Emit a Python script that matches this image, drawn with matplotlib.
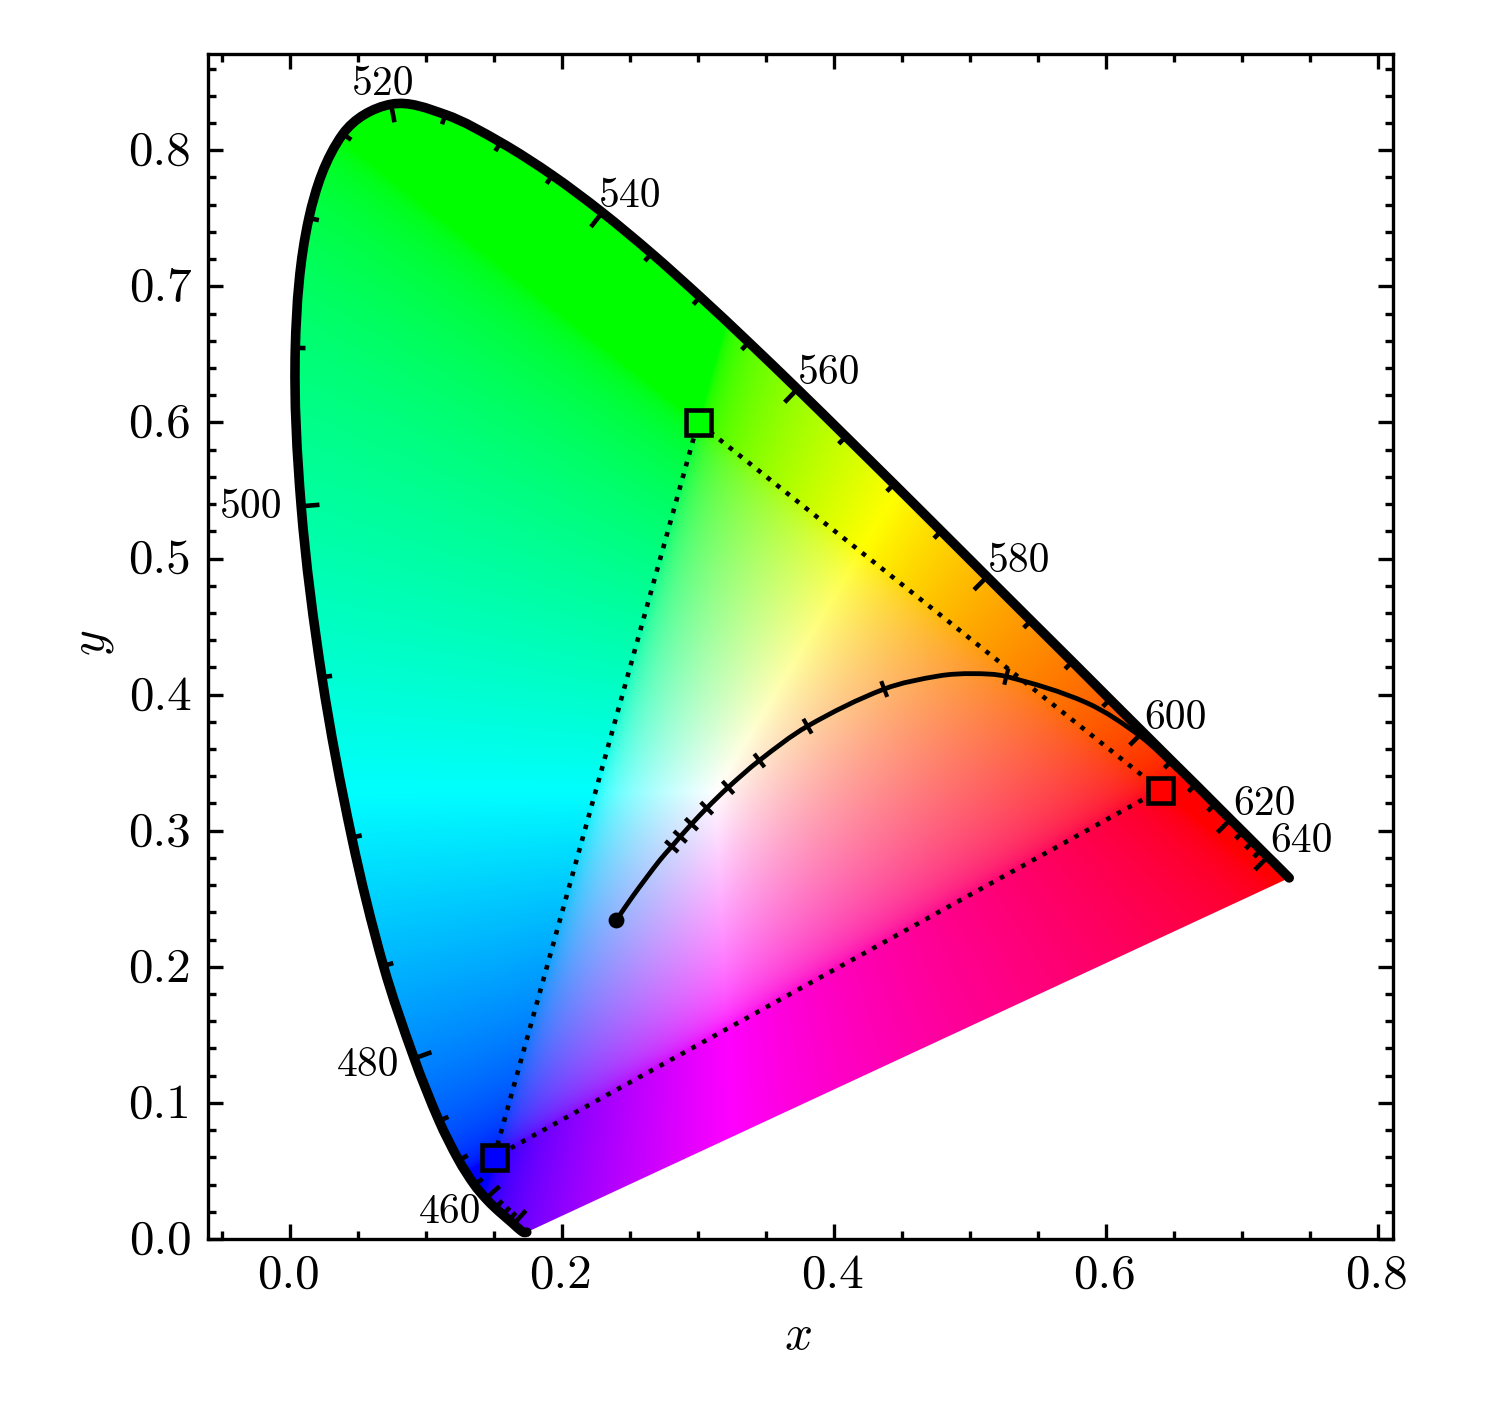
import matplotlib
matplotlib.use('Agg')
import matplotlib.pyplot as plt
import numpy as np
from matplotlib.patches import PathPatch
from matplotlib.path import Path
from matplotlib.ticker import MultipleLocator
from matplotlib.transforms import ScaledTranslation

plt.rcParams['font.family'] = ['cmr10', 'DejaVu Serif']
plt.rcParams['mathtext.fontset'] = 'cm'
plt.rcParams['axes.formatter.use_mathtext'] = True

wavelengths = list(range(380, 705, 5))
locus_x = [.1741, .1740, .1738, .1736, .1733, .1730, .1726, .1721, .1714, .1703, .1689, .1669, .1644,
           .1611, .1566, .1510, .1440, .1355, .1241, .1096, .0913, .0687, .0454, .0235, .0082, .0039,
           .0139, .0389, .0743, .1142, .1547, .1929, .2296, .2658, .3016, .3373, .3731, .4087, .4441,
           .4788, .5125, .5448, .5752, .6029, .6270, .6482, .6658, .6801, .6915, .7006, .7079, .7140,
           .7190, .7230, .7260, .7283, .7300, .7311, .7320, .7327, .7334, .7340, .7344, .7346, .7347]
locus_y = [.0050, .0050, .0049, .0049, .0048, .0048, .0048, .0048, .0051, .0058, .0069, .0086, .0109,
           .0138, .0177, .0227, .0297, .0399, .0578, .0868, .1327, .2007, .2950, .4127, .5384, .6548,
           .7502, .8120, .8338, .8262, .8059, .7816, .7543, .7243, .6923, .6589, .6245, .5896, .5547,
           .5202, .4866, .4544, .4242, .3965, .3725, .3514, .3340, .3197, .3083, .2993, .2920, .2859,
           .2809, .2770, .2740, .2717, .2700, .2689, .2680, .2673, .2666, .2660, .2656, .2654, .2653]
labelled_nm = [460, 480, 500, 520, 540, 560, 580, 600, 620, 640]

# planckian locus, from infinite temperature down to 1000 K
planck_x = [.2399, .2522, .2718, .2807, .2869, .2952, .3064, .3221, .3451, .3805,
            .4369, .4770, .5020, .5267, .5857, .6251, .6528]
planck_y = [.2342, .2521, .2782, .2884, .2956, .3048, .3166, .3318, .3516, .3768,
            .4041, .4137, .4154, .4133, .3940, .3695, .3444]
planck_tick_x = [.2807, .2869, .2952, .3064, .3221, .3451, .3805, .4369, .5267]
planck_tick_y = [.2884, .2956, .3048, .3166, .3318, .3516, .3768, .4041, .4133]

# sRGB primaries
primary_x = [.64, .30, .15]
primary_y = [.33, .60, .06]
primary_colors = [(1, 0, 0), (0, 1, 0), (0, 0, 1)]

xticks = [0.0, 0.2, 0.4, 0.6, 0.8]
yticks = [0.0, 0.1, 0.2, 0.3, 0.4, 0.5, 0.6, 0.7, 0.8]

XYZ_TO_RGB = np.array([[3.2406, -1.5372, -0.4986],
                       [-0.9689, 1.8758, 0.0415],
                       [0.0557, -0.2040, 1.0570]])


def xy_to_srgb(x, y):
    y = np.maximum(y, 1e-6)
    xyz = np.stack([x / y, np.ones_like(x), (1 - x - y) / y], axis=-1)
    rgb = xyz @ XYZ_TO_RGB.T
    rgb = np.clip(rgb, 0, None)
    rgb = rgb / rgb.max(axis=-1, keepdims=True)
    return np.where(rgb <= 0.0031308, 12.92 * rgb, 1.055 * rgb ** (1 / 2.4) - 0.055)


def tangents(x, y):
    p = np.column_stack([x, y])
    t = np.gradient(p, axis=0)
    return p, t / np.hypot(t[:, 0], t[:, 1])[:, None]


def smooth_path(x, y, close=False):
    # bezier path through the points, so that the curve has no corners
    p, t = tangents(x, y)
    verts = [p[0]]
    codes = [Path.MOVETO]
    for i in range(len(p) - 1):
        seg = np.hypot(*(p[i + 1] - p[i])) / 3
        verts += [p[i] + t[i] * seg, p[i + 1] - t[i + 1] * seg, p[i + 1]]
        codes += [Path.CURVE4] * 3
    if close:
        verts.append(p[0])
        codes.append(Path.CLOSEPOLY)
    return Path(np.array(verts), codes)


W, H = 1500, 1413
fig = plt.figure(figsize=(W / 300, H / 300), dpi=300)
ax = fig.add_axes([208 / W, 1 - 1239 / H, (1393 - 208) / W, (1239 - 54) / H])
xlim = (-0.0603, 0.8110)
ylim = (0.0, 0.8707)

# gamut fill
gx, gy = np.meshgrid(np.linspace(xlim[0], xlim[1], 1300), np.linspace(ylim[0], ylim[1], 1300))
im = ax.imshow(xy_to_srgb(gx, gy), origin='lower', extent=(xlim[0], xlim[1], ylim[0], ylim[1]),
               interpolation='bilinear', aspect='auto', zorder=1)
outline = PathPatch(smooth_path(locus_x, locus_y, close=True), fc='none', ec='none')
ax.add_patch(outline)
im.set_clip_path(outline)

# locus line
ax.add_patch(PathPatch(smooth_path(locus_x, locus_y), fc='none', ec='k', lw=2.3,
                       capstyle='round', joinstyle='round', zorder=4))

# wavelength ticks, pointing into the gamut
pts, tan = tangents(locus_x, locus_y)
# offsets of the labels from the curve, pixels at 300 dpi
label_offsets = {460: (-36, -14), 480: (-46, -7), 500: (-50, -1), 520: (-8, 20), 540: (28, 16),
                 560: (32, 16), 580: (32, 15), 600: (33, 14), 620: (34, 15), 640: (34, 15)}
for i, nm in enumerate(wavelengths):
    if nm < 440 or nm > 640:
        continue
    length = 0.0135 if nm % 20 == 0 else 0.0075
    ax.plot([pts[i, 0], pts[i, 0] + tan[i, 1] * length], [pts[i, 1], pts[i, 1] - tan[i, 0] * length],
            color='k', lw=1.1, solid_capstyle='butt', zorder=3)
    if nm in labelled_nm:
        off = label_offsets[nm]
        ax.annotate(str(nm), (pts[i, 0], pts[i, 1]), xytext=(off[0] * 0.24, off[1] * 0.24),
                    textcoords='offset points', ha='center', va='center', fontsize=10, zorder=5)

# triangle and primaries
tri_x = primary_x + primary_x[:1]
tri_y = primary_y + primary_y[:1]
ax.plot(tri_x, tri_y, color='k', ls=':', lw=1.1, zorder=3)
for px, py, c in zip(primary_x, primary_y, primary_colors):
    ax.plot(px, py, 's', ms=6, mfc=c, mec='k', mew=1.1, zorder=6)

# planckian locus
ax.add_patch(PathPatch(smooth_path(planck_x, planck_y), fc='none', ec='k', lw=1.15, zorder=3))
ax.plot(planck_x[0], planck_y[0], 'o', color='k', ms=3.8, mew=0, zorder=3)
pl, pl_t = tangents(planck_x, planck_y)
for tx, ty in zip(planck_tick_x, planck_tick_y):
    i = planck_x.index(tx)
    half = 0.0062
    ax.plot([tx - pl_t[i, 1] * half, tx + pl_t[i, 1] * half], [ty + pl_t[i, 0] * half, ty - pl_t[i, 0] * half],
            color='k', lw=1.0, solid_capstyle='butt', zorder=3)

ax.set_xlim(xlim)
ax.set_ylim(ylim)
ax.set_xticks(xticks)
ax.set_yticks(yticks)
ax.xaxis.set_major_formatter(lambda v, pos: '%.1f' % v)
ax.yaxis.set_major_formatter(lambda v, pos: '%.1f' % v)
ax.xaxis.set_minor_locator(MultipleLocator(0.05))
ax.yaxis.set_minor_locator(MultipleLocator(0.02))
ax.tick_params(which='both', direction='in', top=True, right=True, labelsize=11.8, zorder=7)
ax.tick_params(which='major', length=3.5, width=0.8, pad=4)
ax.tick_params(which='minor', length=2, width=0.8)
ax.set_xlabel('$x$', fontsize=11.8)
ax.set_ylabel('$y$', fontsize=11.8)
ax.xaxis.set_label_coords(0.4975, -0.0641)
ax.yaxis.set_label_coords(-0.0776, 0.503)

# small nudges of the tick labels, the original text sits a touch left and up
for lab in ax.get_xticklabels():
    lab.set_transform(lab.get_transform() + ScaledTranslation(-1.5 / 300, 2 / 300, fig.dpi_scale_trans))
for lab in ax.get_yticklabels():
    lab.set_transform(lab.get_transform() + ScaledTranslation(0, 2.5 / 300, fig.dpi_scale_trans))

fig.savefig('out.png', dpi=300)
